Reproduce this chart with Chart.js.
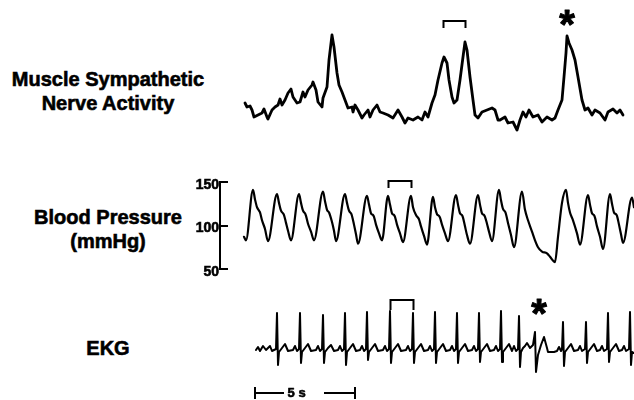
<!DOCTYPE html>
<html><head><meta charset="utf-8">
<script src="https://cdn.jsdelivr.net/npm/chart.js@4.4.1/dist/chart.umd.min.js"></script>
<style>
html,body{margin:0;padding:0;background:#fff;}
#wrap{position:relative;width:634px;height:400px;overflow:hidden;background:#fff;}
canvas{position:absolute;left:0;}
.lbl{position:absolute;left:0;width:216px;text-align:center;font-family:"Liberation Sans",Arial,sans-serif;font-weight:bold;font-size:20px;line-height:24px;color:#000;white-space:nowrap;-webkit-text-stroke:0.6px #000;}
</style></head>
<body><div id="wrap">
<div class="lbl" style="top:67px">Muscle Sympathetic<br>Nerve Activity</div>
<div class="lbl" style="top:205px">Blood Pressure<br>(mmHg)</div>
<div class="lbl" style="top:336px">EKG</div>
<canvas id="msna" width="634" height="150" style="top:0px"></canvas>
<canvas id="bp" width="634" height="107" style="top:172px"></canvas>
<canvas id="ekg" width="634" height="110" style="top:290px"></canvas>
</div>
<script>
// ---- time in seconds, MSNA in arbitrary units ----
const msnaTime = [0.05,0.15,0.3,0.4,0.5,0.7,0.9,1.0,1.15,1.2,
1.4,1.55,1.7,1.8,1.9,2.05,2.2,2.35,2.45,2.65,
2.8,2.95,3.05,3.2,3.4,3.45,3.6,3.7,3.9,3.95,
4.15,4.25,4.4,4.5,4.65,4.75,4.9,5.05,5.2,5.4,
5.45,5.55,5.7,5.9,6.0,6.2,6.3,6.45,6.65,6.8,
6.95,7.2,7.45,7.7,7.9,8.05,8.2,8.45,8.7,8.9,
9.05,9.2,9.4,9.55,9.7,9.9,10.0,10.15,10.25,10.4,
10.5,10.65,10.8,10.95,11.05,11.15,11.3,11.45,11.55,11.7,
11.9,12.15,12.4,12.55,12.7,12.8,13.05,13.2,13.45,13.65,
13.8,13.95,14.1,14.25,14.45,14.7,14.9,15.15,15.4,15.55,
15.7,15.9,16.0,16.1,16.15,16.25,16.4,16.55,16.7,16.9,
17.05,17.2,17.4,17.55,17.8,18.05,18.2,18.45,18.65,18.8,
18.95];
const msnaValue = [17,13,14,10,3,5,7,11,3,1,
10,13,15,21,15,20,27,31,23,17,
18,28,23,30,35,38,30,18,13,22,
33,60,85,73,47,35,28,20,12,13,
8,15,10,2,5,10,3,10,15,8,
7,5,2,10,3,-3,2,0,3,0,
8,3,17,25,40,57,63,57,40,23,
17,20,40,63,78,70,43,20,5,2,
8,10,12,10,0,0,3,-3,-2,-10,
0,8,3,10,3,5,-2,3,0,2,
10,20,43,67,84,77,70,60,43,20,
10,12,5,10,7,0,8,11,7,10,
5];

// ---- blood pressure, mmHg ----
const bpTime = [0,0.1,0.45,0.55,0.65,0.75,0.8,0.9,1.05,1.2,
1.65,1.75,1.85,1.95,2.0,2.1,2.2,2.35,
2.75,2.85,2.95,3.05,3.1,3.2,3.35,3.5,
3.95,4.05,4.15,4.25,4.3,4.4,4.5,4.6,
5.05,5.15,5.25,5.35,5.4,5.5,5.6,5.7,
6.15,6.25,6.35,6.45,6.5,6.6,6.75,6.9,
7.2,7.3,7.4,7.5,7.55,7.65,7.8,7.95,
8.35,8.45,8.6,8.7,8.75,8.85,9.0,9.15,
9.45,9.55,9.65,9.75,9.8,9.9,10.05,10.2,
10.6,10.7,10.8,10.9,10.95,11.05,11.15,11.3,
11.7,11.8,11.9,12.0,12.05,12.15,12.25,12.4,
12.75,12.85,12.95,13.05,13.1,13.2,13.35,13.5,
13.9,14.05,14.2,14.4,14.55,14.7,14.9,15.15,15.3,15.55,
15.7,15.9,16.1,16.2,16.3,16.45,16.65,16.8,
17.2,17.3,17.4,17.5,17.55,17.65,17.8,17.95,
18.3,18.4,18.5,18.6,18.65,18.75,18.85,18.95,
19.4,19.5];
const bpValue = [87,83,141,130,121,117,115,106,96,82,
136,126,117,114,112,103,94,83,
136,126,117,114,111,102,93,83,
139,128,118,115,112,104,94,82,
136,126,117,114,111,101,90,79,
134,124,114,112,110,101,91,83,
134,124,114,112,110,101,91,81,
134,121,112,109,107,99,88,78,
133,121,113,111,109,101,91,82,
135,124,114,112,109,99,89,79,
135,124,114,112,110,102,93,82,
141,129,119,116,113,103,89,75,
139,118,106,93,83,75,70,68,64,58,
87,126,141,126,115,106,91,78,
135,124,114,112,109,99,87,73,
136,125,115,113,111,101,90,80,
132,121];
const bpTicks = [50, 100, 150];

// ---- EKG, arbitrary units ----
const ekgTime = [0.6,0.7,0.8,0.95,1.1,1.3,1.4,1.6,
1.65,1.7,1.75,1.9,2.05,2.2,2.45,2.55,2.65,2.75,
2.8,2.85,2.9,3.05,3.2,3.35,3.6,3.7,3.8,3.9,
3.95,4.0,4.05,4.2,4.35,4.5,4.7,4.8,4.9,5.0,
5.05,5.1,5.15,5.3,5.45,5.6,5.8,5.9,6.0,6.1,
6.15,6.2,6.25,6.4,6.55,6.7,6.95,7.05,7.15,7.25,
7.3,7.35,7.4,7.55,7.7,7.85,8.1,8.2,8.3,8.4,
8.45,8.5,8.55,8.7,8.85,9.0,9.2,9.3,9.4,9.5,
9.55,9.6,9.65,9.8,9.95,10.1,10.3,10.4,10.5,10.6,
10.65,10.7,10.75,10.9,11.05,11.2,11.4,11.5,11.6,11.7,
11.75,11.8,11.85,12.0,12.15,12.3,12.5,12.6,12.7,12.8,
12.85,12.9,12.95,13.1,13.25,13.4,13.5,13.6,13.7,
13.75,13.8,13.85,13.95,14.05,14.15,14.3,14.45,14.55,14.6,14.7,14.85,15.0,15.15,15.2,15.5,15.65,15.75,15.85,15.9,
15.95,16.0,16.05,16.2,16.35,16.5,16.7,16.8,16.9,17.05,
17.1,17.15,17.2,17.35,17.5,17.65,17.8,17.9,18.0,18.15,
18.2,18.25,18.3,18.45,18.6,18.75,18.9,19.0,19.1,19.25,
19.3,19.35,19.4,19.5];
const ekgValue = [0,3,-1,4,0,4,-1,1,
37,-15,-2,2,6,-1,0,4,-1,1,
37,-13,-2,2,6,-1,0,4,-1,1,
35,-13,-2,2,5,-1,0,4,-1,1,
37,-15,-2,2,6,-1,0,4,-1,1,
38,-10,-2,2,6,-1,0,4,-1,1,
39,-13,-2,2,6,-1,0,4,-1,1,
37,-13,-2,2,6,-1,0,4,-1,1,
38,-13,-2,2,6,-1,0,4,-1,1,
37,-13,-2,2,6,-1,0,4,-1,1,
37,-12,-2,2,6,-1,0,4,-1,1,
39,-12,-2,2,6,-1,4,-1,1,
34,-17,-2,2,4,7,2,5,18,-22,-5,5,13,2,-2,-2,-1,3,-1,1,
28,-16,-2,2,6,-1,0,4,-1,1,
28,-13,-2,2,6,-1,0,4,-1,1,
37,-12,-2,2,6,-1,0,4,-1,1,
38,-15,-2,-3];

const T_MIN = -1.2, T_MAX = 19.5;
const FONT = '"Liberation Sans", Arial, sans-serif';

function pts(ts, vs){ return ts.map((t,i)=>({x:t, y:vs[i]})); }

const annot = {
  id: 'annot',
  afterDatasetsDraw(chart, args, o) {
    const ctx = chart.ctx, x = chart.scales.x, y = chart.scales.y;
    ctx.save();
    ctx.strokeStyle = '#000'; ctx.fillStyle = '#000'; ctx.lineCap = 'butt';
    if (o.innerTicks) {
      const left = chart.chartArea.left;
      ctx.lineWidth = 2;
      y.ticks.forEach(tk => {
        const py = Math.round(y.getPixelForValue(tk.value));
        ctx.beginPath(); ctx.moveTo(left, py); ctx.lineTo(left + 8, py); ctx.stroke();
      });
    }
    (o.brackets || []).forEach(b => {
      const x1 = Math.round(x.getPixelForValue(b.from)) + 0.5, x2 = Math.round(x.getPixelForValue(b.to)) + 0.5;
      const yt = Math.round(y.getPixelForValue(b.top)), yb = y.getPixelForValue(b.leg);
      ctx.lineWidth = 2;
      ctx.beginPath(); ctx.moveTo(x1, yb); ctx.lineTo(x1, yt); ctx.lineTo(x2, yt); ctx.lineTo(x2, yb); ctx.stroke();
    });
    (o.stars || []).forEach(s => {
      ctx.font = 'bold 40px ' + FONT;
      ctx.textAlign = 'center'; ctx.textBaseline = 'alphabetic';
      const m = ctx.measureText('*');
      const off = (m.actualBoundingBoxAscent - m.actualBoundingBoxDescent) / 2;
      ctx.lineWidth = 1; ctx.lineJoin = 'round';
      ctx.fillText('*', x.getPixelForValue(s.t), y.getPixelForValue(s.v) + off);
      ctx.strokeText('*', x.getPixelForValue(s.t), y.getPixelForValue(s.v) + off);
    });
    if (o.scaleBar) {
      const s = o.scaleBar;
      const py = Math.round(y.getPixelForValue(s.at));
      const xa = x.getPixelForValue(s.from), xb = x.getPixelForValue(s.from + s.length);
      const g1 = x.getPixelForValue(s.gapFrom), g2 = x.getPixelForValue(s.gapTo);
      ctx.lineWidth = 2;
      ctx.beginPath();
      ctx.moveTo(xa, py); ctx.lineTo(g1, py);
      ctx.moveTo(g2, py); ctx.lineTo(xb, py);
      ctx.moveTo(xa, py - 6); ctx.lineTo(xa, py + 6);
      ctx.moveTo(xb, py - 6); ctx.lineTo(xb, py + 6);
      ctx.stroke();
      ctx.font = 'bold 13px ' + FONT;
      ctx.textAlign = 'center'; ctx.textBaseline = 'middle';
      ctx.lineWidth = 0.6;
      ctx.fillText(s.text, x.getPixelForValue(s.labelAt), py);
      ctx.strokeText(s.text, x.getPixelForValue(s.labelAt), py);
    }
    ctx.restore();
  }
};

function xScale() {
  return { type: 'linear', min: T_MIN, max: T_MAX, display: false };
}
function lineSet(data, w, mode) {
  return { data, borderColor: '#000', borderWidth: w, pointRadius: 0, tension: mode ? 0.4 : 0,
           cubicInterpolationMode: mode || 'default',
           borderJoinStyle: 'round', borderCapStyle: 'round', fill: false };
}
const common = { responsive: false, animation: false, events: [],
  plugins: { legend: { display: false }, tooltip: { enabled: false } } };

new Chart(document.getElementById('msna'), {
  type: 'line',
  data: { datasets: [lineSet(pts(msnaTime, msnaValue), 2.8)] },
  options: Object.assign({}, common, {
    layout: { padding: { left: 220, right: 0, top: 0, bottom: 0 } },
    scales: { x: xScale(), y: { type: 'linear', min: -30, max: 120, display: false } },
    plugins: Object.assign({}, common.plugins, { annot: {
      brackets: [{ from: 9.95, to: 11.05, top: 99, leg: 92 }],
      stars: [{ t: 16.15, v: 102 }] } })
  }),
  plugins: [annot]
});

new Chart(document.getElementById('bp'), {
  type: 'line',
  data: { datasets: [lineSet(pts(bpTime, bpValue), 2.2, 'monotone')] },
  options: Object.assign({}, common, {
    layout: { padding: { left: 0, right: 0, top: 10, bottom: 10 } },
    scales: { x: xScale(), y: { type: 'linear', min: 50, max: 150,
      afterBuildTicks: s => { s.ticks = bpTicks.map(v => ({ value: v })); },
      afterFit: s => { s.width = 220; },
      grid: { display: false, drawTicks: false },
      border: { display: true, color: '#000', width: 2 },
      ticks: { color: '#000', padding: 1, labelOffset: 3, textStrokeColor: '#000', textStrokeWidth: 0.6,
               font: { family: FONT, weight: 'bold', size: 14 } } } },
    plugins: Object.assign({}, common.plugins, { annot: {
      innerTicks: true,
      brackets: [{ from: 7.2, to: 8.35, top: 151, leg: 143 }] } })
  }),
  plugins: [annot]
});

new Chart(document.getElementById('ekg'), {
  type: 'line',
  data: { datasets: [lineSet(pts(ekgTime, ekgValue), 2)] },
  options: Object.assign({}, common, {
    layout: { padding: { left: 220, right: 0, top: 0, bottom: 0 } },
    scales: { x: xScale(), y: { type: 'linear', min: -50, max: 60, display: false } },
    plugins: Object.assign({}, common.plugins, { annot: {
      brackets: [{ from: 7.3, to: 8.45, top: 50, leg: 40 }],
      stars: [{ t: 14.75, v: 43 }],
      scaleBar: { from: 0.55, length: 5, gapFrom: 2.0, gapTo: 4.0, labelAt: 2.63, text: '5 s', at: -43 } } })
  }),
  plugins: [annot]
});

setTimeout(() => {
  const bad = [];
  if (msnaTime.length !== msnaValue.length) bad.push('msna ' + msnaTime.length + '/' + msnaValue.length);
  if (bpTime.length !== bpValue.length) bad.push('bp ' + bpTime.length + '/' + bpValue.length);
  if (ekgTime.length !== ekgValue.length) bad.push('ekg ' + ekgTime.length + '/' + ekgValue.length);
  if (bad.length) throw new Error('length mismatch: ' + bad.join(', '));
}, 0);
</script>
</body></html>
